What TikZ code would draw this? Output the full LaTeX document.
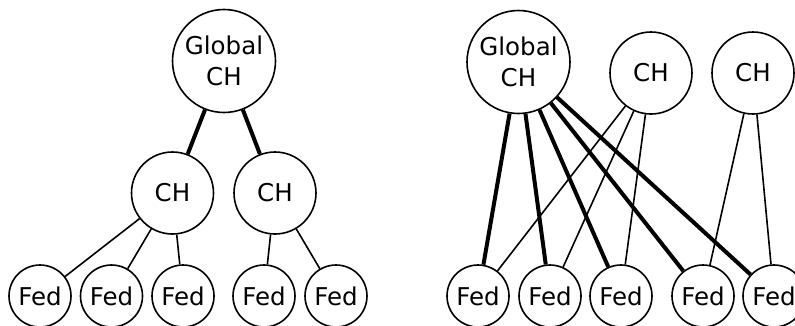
\documentclass[tikz,border=0pt]{standalone}
\usepackage{fontspec}
\setmainfont{DejaVu Sans}
\begin{document}
\begin{tikzpicture}[x=1pt,y=-1pt,
  nd/.style={circle,draw,line width=1.6pt,inner sep=0pt,align=center,
    font=\fontsize{24.5}{31.7}\selectfont},
  gnode/.style={nd,minimum size=103pt},
  chnode/.style={nd,minimum size=82pt},
  fednode/.style={nd,minimum size=62pt},
  thin link/.style={line width=1.6pt},
  thick link/.style={line width=4pt}]
\useasboundingbox (0,0) rectangle (795,325);
% left panel
\node[gnode] (gL) at (224,61) {Global\\CH};
\node[chnode] (cL1) at (172.5,193) {CH};
\node[chnode] (cL2) at (275,193) {CH};
\node[fednode] (fL1) at (40,296) {Fed};
\node[fednode] (fL2) at (111.5,296) {Fed};
\node[fednode] (fL3) at (183,296) {Fed};
\node[fednode] (fL4) at (264,296) {Fed};
\node[fednode] (fL5) at (336,296) {Fed};
\draw[thick link] (gL) -- (cL1);
\draw[thick link] (gL) -- (cL2);
\foreach \f in {fL1,fL2,fL3} \draw[thin link] (cL1) -- (\f);
\foreach \f in {fL4,fL5} \draw[thin link] (cL2) -- (\f);
% right panel
\node[gnode] (gR) at (518.5,62) {Global\\CH};
\node[chnode] (cR1) at (651,73) {CH};
\node[chnode] (cR2) at (753,73) {CH};
\node[fednode] (fR1) at (478,296) {Fed};
\node[fednode] (fR2) at (550,296) {Fed};
\node[fednode] (fR3) at (621,296) {Fed};
\node[fednode] (fR4) at (703,296) {Fed};
\node[fednode] (fR5) at (774,296) {Fed};
\foreach \f in {fR1,fR2,fR3,fR4,fR5} \draw[thick link] (gR) -- (\f);
\foreach \f in {fR1,fR2,fR3} \draw[thin link] (cR1) -- (\f);
\foreach \f in {fR4,fR5} \draw[thin link] (cR2) -- (\f);
\end{tikzpicture}
\end{document}
